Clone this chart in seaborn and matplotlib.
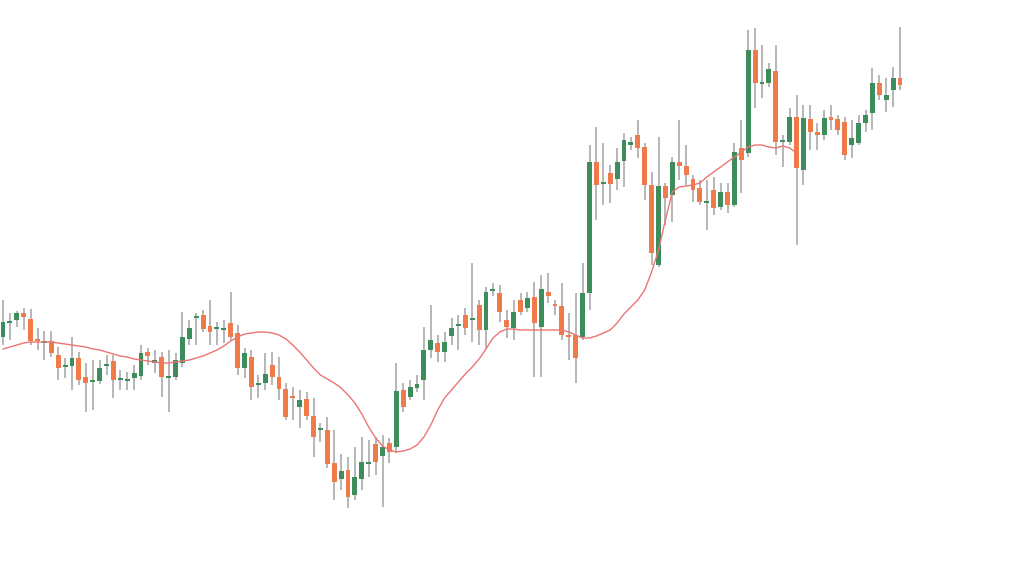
import numpy as np
import pandas as pd
import matplotlib
matplotlib.use('Agg')
import matplotlib.pyplot as plt
import seaborn as sns

# valores (preço em unidades arbitrárias)
abertura = [239, 253, 256, 263, 257, 236, 233, 235, 221, 209, 210, 218, 199, 194, 195, 210, 215, 196, 195, 198,
            200, 224, 213, 219, 198, 199, 213, 237, 258, 261, 250, 247, 246, 253, 243, 208, 219, 191, 193, 211,
            199, 187, 180, 169, 177, 160, 146, 146, 113, 97, 106, 81, 97, 112, 132, 120, 133, 129, 186, 179,
            188, 196, 226, 233, 224, 240, 250, 261, 256, 271, 246, 285, 283, 256, 248, 276, 268, 279, 249, 284,
            271, 270, 240, 241, 239, 283, 414, 392, 403, 397, 415, 431, 441, 429, 391, 311, 390, 381, 414, 410,
            397, 388, 373, 386, 369, 384, 371, 428, 423, 526, 492, 493, 505, 434, 434, 459, 406, 457, 444, 441,
            459, 457, 454, 431, 433, 453, 463, 493, 476, 486, 498]
fechamento = [254, 255, 263, 259, 235, 235, 235, 223, 208, 210, 218, 196, 193, 195, 208, 211, 196, 197, 197, 203,
              223, 220, 216, 199, 200, 216, 239, 248, 260, 247, 244, 248, 248, 239, 208, 223, 189, 192, 202, 199,
              187, 159, 178, 176, 160, 139, 148, 112, 94, 105, 79, 99, 114, 114, 114, 129, 124, 185, 169, 189,
              192, 226, 236, 224, 234, 248, 252, 248, 257, 246, 284, 287, 264, 249, 264, 264, 278, 253, 287, 280,
              270, 241, 239, 218, 283, 414, 391, 393, 392, 414, 436, 434, 428, 391, 323, 390, 378, 414, 410, 401,
              386, 374, 375, 368, 384, 371, 424, 416, 526, 493, 494, 507, 434, 435, 459, 408, 458, 444, 441, 458,
              456, 446, 421, 438, 453, 461, 493, 481, 481, 498, 491]
maxima = [276, 263, 265, 268, 267, 248, 245, 245, 229, 218, 239, 224, 213, 216, 216, 221, 221, 206, 204, 211,
          231, 228, 226, 224, 226, 223, 264, 256, 263, 266, 276, 254, 256, 284, 251, 228, 226, 201, 223, 224,
          219, 193, 189, 186, 184, 178, 153, 159, 146, 122, 119, 129, 139, 136, 139, 141, 138, 213, 193, 196,
          201, 249, 271, 241, 244, 258, 261, 268, 313, 276, 289, 293, 291, 266, 276, 283, 284, 294, 301, 303,
          276, 293, 263, 283, 313, 431, 449, 433, 411, 428, 443, 439, 456, 433, 404, 439, 393, 419, 456, 431,
          401, 396, 396, 399, 393, 393, 433, 456, 546, 548, 531, 513, 531, 441, 468, 481, 471, 471, 453, 466,
          471, 461, 459, 456, 461, 466, 508, 501, 498, 509, 549]
minima = [231, 236, 249, 246, 231, 226, 216, 219, 196, 198, 186, 191, 164, 166, 192, 201, 178, 186, 186, 186,
          196, 211, 203, 179, 164, 196, 209, 231, 231, 244, 231, 231, 233, 236, 201, 198, 176, 178, 186, 191,
          176, 156, 156, 148, 156, 119, 134, 108, 76, 86, 68, 76, 86, 99, 101, 69, 113, 123, 164, 176,
          184, 176, 218, 214, 214, 231, 226, 241, 234, 231, 228, 280, 254, 238, 236, 261, 264, 199, 199, 273,
          261, 236, 216, 193, 236, 266, 356, 371, 373, 386, 389, 426, 418, 376, 311, 309, 351, 354, 396, 391,
          374, 371, 346, 361, 366, 363, 369, 383, 419, 468, 478, 489, 421, 409, 431, 331, 391, 426, 426, 436,
          446, 441, 416, 418, 431, 444, 446, 476, 464, 469, 486]
media_movel = [227, 229, 231, 233, 234, 234, 234, 234, 233, 232, 231, 230, 229, 227, 226, 224, 222, 220, 219, 217,
               216, 215, 214, 213, 213, 214, 215, 216, 218, 220, 223, 226, 230, 235, 239, 242, 243, 244, 244, 243,
               241, 237, 231, 224, 216, 208, 201, 197, 193, 188, 181, 173, 162, 149, 138, 130, 126, 124, 125, 127,
               131, 139, 151, 166, 178, 186, 194, 202, 209, 217, 227, 238, 244, 247, 247, 246, 246, 246, 246, 246,
               246, 246, 244, 241, 238, 238, 240, 243, 246, 253, 262, 269, 276, 286, 304, 326, 356, 384, 389, 390,
               391, 393, 399, 404, 409, 414, 419, 424, 429, 431, 431, 429, 428, 430, 428, 423]

verde = '#3d8c5c'
laranja = '#f07a4a'
pavio = '#a3a3a3'
linha = '#ec7474'

df = pd.DataFrame({'abertura': abertura, 'fechamento': fechamento, 'maxima': maxima, 'minima': minima})
df['idx'] = np.arange(len(df))
df['alta'] = df['fechamento'] >= df['abertura']
df['base'] = df[['abertura', 'fechamento']].min(axis=1)
df['corpo'] = (df['fechamento'] - df['abertura']).abs().clip(lower=1.8)

sns.set_theme(style='white')

fig = plt.figure(figsize=(10.24, 5.76), dpi=100)
ax = fig.add_axes([0, 0, 1, 1])

ax.vlines(df['idx'], df['minima'], df['maxima'], color=pavio, linewidth=1.1, zorder=1)

cores = [verde if a else laranja for a in df['alta']]
ax.bar(df['idx'], df['corpo'], bottom=df['base'], width=0.72, color=cores, edgecolor='none', zorder=2)

mm = pd.DataFrame({'idx': np.arange(len(media_movel)), 'mm': media_movel})
sns.lineplot(data=mm, x='idx', y='mm', color=linha, linewidth=1.0, ax=ax, zorder=3)

ax.set_xlim(-0.435, 147.97)
ax.set_ylim(0, 576)
ax.axis('off')

fig.savefig('out.png', dpi=100, facecolor='white')
